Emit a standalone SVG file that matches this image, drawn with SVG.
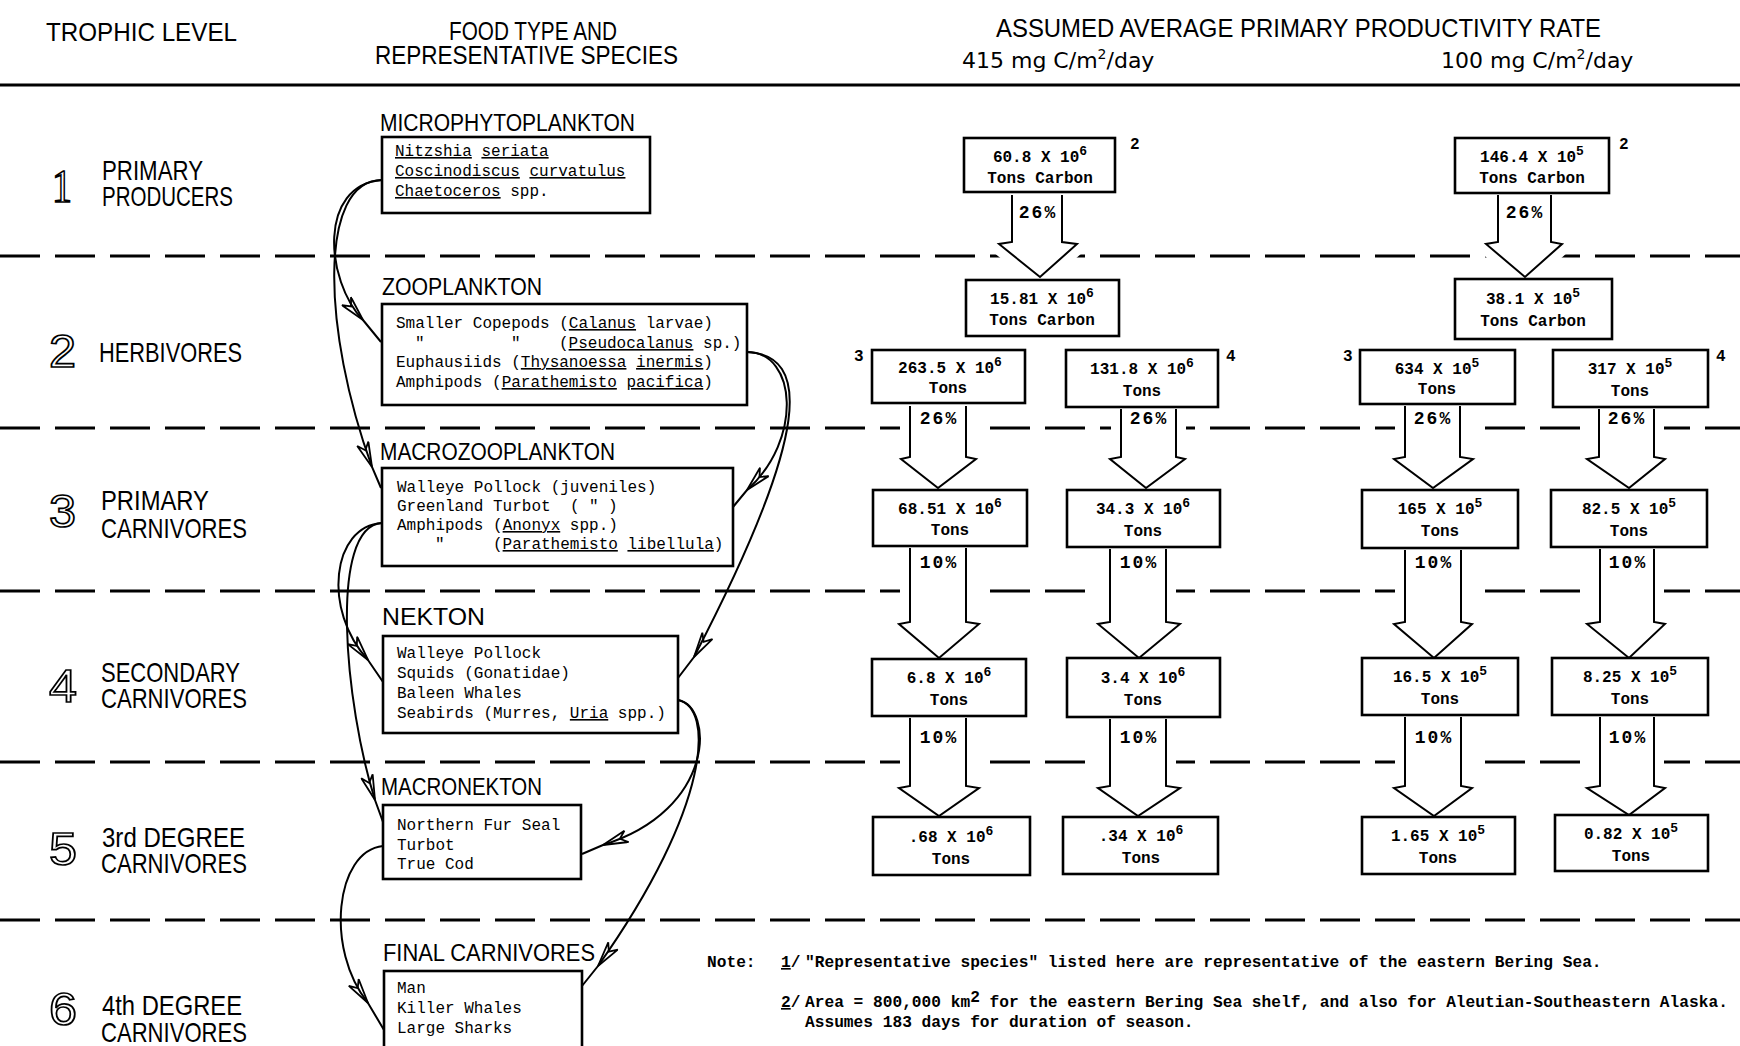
<svg xmlns="http://www.w3.org/2000/svg" width="1740" height="1046" viewBox="0 0 1740 1046">
<defs>
<style>
.hdr{font-family:"Liberation Sans",Arial,sans-serif;font-size:25px;fill:#000}
.rate{font-family:"DejaVu Sans","Liberation Sans",sans-serif;font-size:22px;fill:#000}
.lvl{font-family:"Liberation Sans",Arial,sans-serif;font-size:28px;fill:#000}
.num{font-family:"Liberation Sans",Arial,sans-serif;font-size:47px;fill:#fff;stroke:#000;stroke-width:1.7}
.num1{font-family:"Liberation Serif",serif;font-size:47px;fill:#fff;stroke:#000;stroke-width:1.7}
.cat{font-family:"Liberation Sans",Arial,sans-serif;font-size:23px;fill:#000}
.sp{font-family:"Liberation Mono",monospace;font-size:16px;fill:#000}
.val{font-family:"Liberation Mono",monospace;font-size:16px;font-weight:bold;text-anchor:middle;fill:#000}
.sup{font-size:13px}
.pct{font-family:"Liberation Mono",monospace;font-size:18px;font-weight:bold;text-anchor:middle;letter-spacing:2px;fill:#000}
.fn{font-family:"Liberation Mono",monospace;font-size:16px;font-weight:bold;fill:#000}
.box{fill:#fff;stroke:#000;stroke-width:2.6}
.solid{stroke:#000;stroke-width:3}
.dash{stroke:#000;stroke-width:3;stroke-dasharray:40 15}
.conn{fill:none;stroke:#000;stroke-width:2;marker-mid:url(#ah)}
.halo{fill:none;stroke:#fff;stroke-width:20}
.arr{fill:#fff;stroke:#000;stroke-width:2}
.note{font-family:"Liberation Mono",monospace;font-size:16.2px;font-weight:bold;fill:#000}
</style>
<marker id="ah" viewBox="0 0 28 14" refX="26" refY="7" markerWidth="28" markerHeight="14" markerUnits="userSpaceOnUse" orient="auto">
<path d="M1,1 L26,7 L1,13 L8,7 Z" fill="none" stroke="#000" stroke-width="1.8"/>
</marker>
</defs>
<rect x="0" y="0" width="1740" height="1046" fill="#fff"/>

<g id="header">
<text class="hdr" x="46" y="41" textLength="191" lengthAdjust="spacingAndGlyphs">TROPHIC LEVEL</text>
<text class="hdr" x="449" y="40" textLength="168" lengthAdjust="spacingAndGlyphs">FOOD TYPE AND</text>
<text class="hdr" x="375" y="64" textLength="303" lengthAdjust="spacingAndGlyphs">REPRESENTATIVE SPECIES</text>
<text class="hdr" x="996" y="37" textLength="605" lengthAdjust="spacingAndGlyphs">ASSUMED AVERAGE PRIMARY PRODUCTIVITY RATE</text>
<text class="rate" x="962" y="68">415 mg C/m<tspan dy="-9" font-size="14">2</tspan><tspan dy="9">/day</tspan></text>
<text class="rate" x="1441" y="68">100 mg C/m<tspan dy="-9" font-size="14">2</tspan><tspan dy="9">/day</tspan></text>
</g>

<g id="rules">
<line class="solid" x1="0" y1="85" x2="1740" y2="85"/>
<line class="dash" x1="0" y1="256" x2="1740" y2="256"/>
<line class="dash" x1="0" y1="428" x2="1740" y2="428"/>
<line class="dash" x1="0" y1="591" x2="1740" y2="591"/>
<line class="dash" x1="0" y1="762" x2="1740" y2="762"/>
<line class="dash" x1="0" y1="920" x2="1740" y2="920"/>
</g>

<g id="levels">
<g id="level-1"><text class="num1" x="52" y="202" textLength="20" lengthAdjust="spacingAndGlyphs">1</text>
<text class="lvl" x="102" y="180" textLength="101" lengthAdjust="spacingAndGlyphs">PRIMARY</text>
<text class="lvl" x="102" y="206" textLength="131" lengthAdjust="spacingAndGlyphs">PRODUCERS</text></g>
<g id="level-2"><text class="num" x="49" y="367" textLength="27" lengthAdjust="spacingAndGlyphs">2</text>
<text class="lvl" x="99" y="362" textLength="143" lengthAdjust="spacingAndGlyphs">HERBIVORES</text></g>
<g id="level-3"><text class="num" x="49" y="527" textLength="27" lengthAdjust="spacingAndGlyphs">3</text>
<text class="lvl" x="101" y="510" textLength="108" lengthAdjust="spacingAndGlyphs">PRIMARY</text>
<text class="lvl" x="101" y="538" textLength="146" lengthAdjust="spacingAndGlyphs">CARNIVORES</text></g>
<g id="level-4"><text class="num" x="49" y="702" textLength="28" lengthAdjust="spacingAndGlyphs">4</text>
<text class="lvl" x="101" y="682" textLength="139" lengthAdjust="spacingAndGlyphs">SECONDARY</text>
<text class="lvl" x="101" y="708" textLength="146" lengthAdjust="spacingAndGlyphs">CARNIVORES</text></g>
<g id="level-5"><text class="num" x="49" y="865" textLength="28" lengthAdjust="spacingAndGlyphs">5</text>
<text class="lvl" x="102" y="847" textLength="143" lengthAdjust="spacingAndGlyphs">3rd DEGREE</text>
<text class="lvl" x="101" y="873" textLength="146" lengthAdjust="spacingAndGlyphs">CARNIVORES</text></g>
<g id="level-6"><text class="num" x="49" y="1025" textLength="28" lengthAdjust="spacingAndGlyphs">6</text>
<text class="lvl" x="102" y="1015" textLength="140" lengthAdjust="spacingAndGlyphs">4th DEGREE</text>
<text class="lvl" x="101" y="1042" textLength="146" lengthAdjust="spacingAndGlyphs">CARNIVORES</text></g>
</g>

<g id="connectors">
<path class="conn" d="M382,180 C318,185 325,280 363,320 L381,342"/>
<path class="conn" d="M382,180 C318,180 322,330 372,467 L381,488"/>
<path class="conn" d="M747,352 C797,352 803,440 747,490 L733,507"/>
<path class="conn" d="M747,352 C810,355 812,430 694,657 L678,678"/>
<path class="conn" d="M382,523 C332,526 322,610 368,660 L383,682"/>
<path class="conn" d="M382,523 C328,526 345,705 375,800 L383,822"/>
<path class="conn" d="M678,700 C714,707 716,810 603,845 L582,854"/>
<path class="conn" d="M678,700 C714,707 712,805 598,966 L582,986"/>
<path class="conn" d="M383,846 C335,851 325,950 368,1003 L384,1030"/>
<g id="flow-arrows">
<path class="halo" d="M1012,195 V242 L999,244 L1040,277 L1077,244 L1062,242 V195"/>
<path class="arr" d="M1012,195 V242 L999,244 L1040,277 L1077,244 L1062,242 V195"/>
<path class="halo" d="M1498,195 V242 L1486,244 L1525,277 L1562,244 L1551,242 V195"/>
<path class="arr" d="M1498,195 V242 L1486,244 L1525,277 L1562,244 L1551,242 V195"/>
<path class="halo" d="M910,406 V457 L901,459 L938,488 L976,459 L966,457 V406"/>
<path class="arr" d="M910,406 V457 L901,459 L938,488 L976,459 L966,457 V406"/>
<path class="halo" d="M1121,409 V457 L1110,459 L1146,488 L1185,459 L1176,457 V409"/>
<path class="arr" d="M1121,409 V457 L1110,459 L1146,488 L1185,459 L1176,457 V409"/>
<path class="halo" d="M1405,406 V457 L1394,459 L1433,488 L1473,459 L1460,457 V406"/>
<path class="arr" d="M1405,406 V457 L1394,459 L1433,488 L1473,459 L1460,457 V406"/>
<path class="halo" d="M1599,409 V457 L1587,459 L1629,488 L1665,459 L1654,457 V409"/>
<path class="arr" d="M1599,409 V457 L1587,459 L1629,488 L1665,459 L1654,457 V409"/>
<path class="halo" d="M910,548 V622 L899,624 L939,658 L979,624 L966,622 V548"/>
<path class="arr" d="M910,548 V622 L899,624 L939,658 L979,624 L966,622 V548"/>
<path class="halo" d="M1110,549 V622 L1098,624 L1139,658 L1180,624 L1166,622 V549"/>
<path class="arr" d="M1110,549 V622 L1098,624 L1139,658 L1180,624 L1166,622 V549"/>
<path class="halo" d="M1405,550 V622 L1394,624 L1434,658 L1472,624 L1461,622 V550"/>
<path class="arr" d="M1405,550 V622 L1394,624 L1434,658 L1472,624 L1461,622 V550"/>
<path class="halo" d="M1600,549 V622 L1587,624 L1629,658 L1665,624 L1654,622 V549"/>
<path class="arr" d="M1600,549 V622 L1587,624 L1629,658 L1665,624 L1654,622 V549"/>
<path class="halo" d="M910,718 V786 L899,788 L939,816 L979,788 L966,786 V718"/>
<path class="arr" d="M910,718 V786 L899,788 L939,816 L979,788 L966,786 V718"/>
<path class="halo" d="M1110,719 V786 L1098,788 L1138,816 L1180,788 L1166,786 V719"/>
<path class="arr" d="M1110,719 V786 L1098,788 L1138,816 L1180,788 L1166,786 V719"/>
<path class="halo" d="M1405,717 V786 L1394,788 L1434,816 L1472,788 L1461,786 V717"/>
<path class="arr" d="M1405,717 V786 L1394,788 L1434,816 L1472,788 L1461,786 V717"/>
<path class="halo" d="M1600,717 V786 L1587,788 L1629,815 L1665,788 L1654,786 V717"/>
<path class="arr" d="M1600,717 V786 L1587,788 L1629,815 L1665,788 L1654,786 V717"/>
<text class="pct" x="1038" y="218">26%</text>
<text class="pct" x="1525" y="218">26%</text>
<text class="pct" x="939" y="424">26%</text>
<text class="pct" x="1149" y="424">26%</text>
<text class="pct" x="1433" y="424">26%</text>
<text class="pct" x="1627" y="424">26%</text>
<text class="pct" x="939" y="568">10%</text>
<text class="pct" x="1139" y="568">10%</text>
<text class="pct" x="1434" y="568">10%</text>
<text class="pct" x="1628" y="568">10%</text>
<text class="pct" x="939" y="743">10%</text>
<text class="pct" x="1139" y="743">10%</text>
<text class="pct" x="1434" y="743">10%</text>
<text class="pct" x="1628" y="743">10%</text>
</g>
</g>

<g id="microphytoplankton">
<text class="cat" x="380" y="131" textLength="255" lengthAdjust="spacingAndGlyphs">MICROPHYTOPLANKTON</text>
<rect class="box" x="382" y="137" width="268" height="76"/>
<text class="sp" x="395" y="156"><tspan text-decoration="underline">Nitzshia</tspan> <tspan text-decoration="underline">seriata</tspan></text>
<text class="sp" x="395" y="176"><tspan text-decoration="underline">Coscinodiscus</tspan> <tspan text-decoration="underline">curvatulus</tspan></text>
<text class="sp" x="395" y="196"><tspan text-decoration="underline">Chaetoceros</tspan> spp.</text>
</g>

<g id="zooplankton">
<text class="cat" x="382" y="295" textLength="160" lengthAdjust="spacingAndGlyphs">ZOOPLANKTON</text>
<rect class="box" x="382" y="304" width="365" height="101"/>
<text class="sp" x="396" y="328">Smaller Copepods (<tspan text-decoration="underline">Calanus</tspan> larvae)</text>
<text class="sp" y="348"><tspan x="415">"</tspan><tspan x="511">"</tspan><tspan x="559">(</tspan><tspan text-decoration="underline">Pseudocalanus</tspan> sp.)</text>
<text class="sp" x="396" y="367">Euphausiids (<tspan text-decoration="underline">Thysanoessa</tspan> <tspan text-decoration="underline">inermis</tspan>)</text>
<text class="sp" x="396" y="387">Amphipods (<tspan text-decoration="underline">Parathemisto</tspan> <tspan text-decoration="underline">pacifica</tspan>)</text>
</g>

<g id="macrozooplankton">
<text class="cat" x="380" y="460" textLength="235" lengthAdjust="spacingAndGlyphs">MACROZOOPLANKTON</text>
<rect class="box" x="382" y="468" width="351" height="98"/>
<text class="sp" x="397" y="492">Walleye Pollock (juveniles)</text>
<text class="sp" y="511"><tspan x="397">Greenland Turbot</tspan><tspan x="570">(</tspan><tspan x="589">"</tspan><tspan x="608">)</tspan></text>
<text class="sp" x="397" y="530">Amphipods (<tspan text-decoration="underline">Anonyx</tspan> spp.)</text>
<text class="sp" y="549"><tspan x="435">"</tspan><tspan x="493">(</tspan><tspan text-decoration="underline">Parathemisto</tspan> <tspan text-decoration="underline">libellula</tspan>)</text>
</g>

<g id="nekton">
<text class="cat" x="382" y="625" textLength="103" lengthAdjust="spacingAndGlyphs">NEKTON</text>
<rect class="box" x="383" y="636" width="295" height="97"/>
<text class="sp" x="397" y="658">Walleye Pollock</text>
<text class="sp" x="397" y="678">Squids (Gonatidae)</text>
<text class="sp" x="397" y="698">Baleen Whales</text>
<text class="sp" x="397" y="718">Seabirds (Murres, <tspan text-decoration="underline">Uria</tspan> spp.)</text>
</g>

<g id="macronekton">
<text class="cat" x="381" y="795" textLength="161" lengthAdjust="spacingAndGlyphs">MACRONEKTON</text>
<rect class="box" x="383" y="805" width="198" height="74"/>
<text class="sp" x="397" y="830">Northern Fur Seal</text>
<text class="sp" x="397" y="850">Turbot</text>
<text class="sp" x="397" y="869">True Cod</text>
</g>

<g id="final-carnivores">
<text class="cat" x="383" y="961" textLength="212" lengthAdjust="spacingAndGlyphs">FINAL CARNIVORES</text>
<rect class="box" x="384" y="971" width="198" height="90"/>
<text class="sp" x="397" y="993">Man</text>
<text class="sp" x="397" y="1013">Killer Whales</text>
<text class="sp" x="397" y="1033">Large Sharks</text>
</g>

<g id="b415-1"><rect class="box" x="964" y="138" width="151" height="54"/>
<text class="val" x="1040" y="162">60.8 X 10<tspan class="sup" dy="-7">6</tspan></text>
<text class="val" x="1040" y="183">Tons Carbon</text>
<text class="fn" x="1130" y="149">2</text></g>
<g id="b415-2"><rect class="box" x="966" y="280" width="153" height="56"/>
<text class="val" x="1042" y="304">15.81 X 10<tspan class="sup" dy="-7">6</tspan></text>
<text class="val" x="1042" y="325">Tons Carbon</text></g>
<g id="b415-3"><rect class="box" x="872" y="350" width="153" height="53"/>
<text class="val" x="950" y="373">263.5 X 10<tspan class="sup" dy="-7">6</tspan></text>
<text class="val" x="948" y="393">Tons</text>
<text class="fn" x="854" y="361">3</text></g>
<g id="b415-4"><rect class="box" x="1066" y="350" width="152" height="57"/>
<text class="val" x="1142" y="374">131.8 X 10<tspan class="sup" dy="-7">6</tspan></text>
<text class="val" x="1142" y="396">Tons</text>
<text class="fn" x="1226" y="361">4</text></g>
<g id="b415-5"><rect class="box" x="873" y="490" width="154" height="56"/>
<text class="val" x="950" y="514">68.51 X 10<tspan class="sup" dy="-7">6</tspan></text>
<text class="val" x="950" y="535">Tons</text></g>
<g id="b415-6"><rect class="box" x="1067" y="490" width="153" height="57"/>
<text class="val" x="1143" y="514">34.3 X 10<tspan class="sup" dy="-7">6</tspan></text>
<text class="val" x="1143" y="536">Tons</text></g>
<g id="b415-7"><rect class="box" x="872" y="659" width="154" height="57"/>
<text class="val" x="949" y="683">6.8 X 10<tspan class="sup" dy="-7">6</tspan></text>
<text class="val" x="949" y="705">Tons</text></g>
<g id="b415-8"><rect class="box" x="1067" y="658" width="153" height="59"/>
<text class="val" x="1143" y="683">3.4 X 10<tspan class="sup" dy="-7">6</tspan></text>
<text class="val" x="1143" y="705">Tons</text></g>
<g id="b415-9"><rect class="box" x="873" y="817" width="157" height="58"/>
<text class="val" x="951" y="842">.68 X 10<tspan class="sup" dy="-7">6</tspan></text>
<text class="val" x="951" y="864">Tons</text></g>
<g id="b415-10"><rect class="box" x="1063" y="817" width="155" height="57"/>
<text class="val" x="1141" y="841">.34 X 10<tspan class="sup" dy="-7">6</tspan></text>
<text class="val" x="1141" y="863">Tons</text></g>

<g id="b100-1"><rect class="box" x="1455" y="138" width="154" height="55"/>
<text class="val" x="1532" y="162">146.4 X 10<tspan class="sup" dy="-7">5</tspan></text>
<text class="val" x="1532" y="183">Tons Carbon</text>
<text class="fn" x="1619" y="149">2</text></g>
<g id="b100-2"><rect class="box" x="1455" y="279" width="157" height="60"/>
<text class="val" x="1533" y="304">38.1 X 10<tspan class="sup" dy="-7">5</tspan></text>
<text class="val" x="1533" y="326">Tons Carbon</text></g>
<g id="b100-3"><rect class="box" x="1360" y="350" width="155" height="54"/>
<text class="val" x="1437" y="374">634 X 10<tspan class="sup" dy="-7">5</tspan></text>
<text class="val" x="1437" y="394">Tons</text>
<text class="fn" x="1343" y="361">3</text></g>
<g id="b100-4"><rect class="box" x="1553" y="350" width="155" height="57"/>
<text class="val" x="1630" y="374">317 X 10<tspan class="sup" dy="-7">5</tspan></text>
<text class="val" x="1630" y="396">Tons</text>
<text class="fn" x="1716" y="361">4</text></g>
<g id="b100-5"><rect class="box" x="1362" y="490" width="156" height="58"/>
<text class="val" x="1440" y="514">165 X 10<tspan class="sup" dy="-7">5</tspan></text>
<text class="val" x="1440" y="536">Tons</text></g>
<g id="b100-6"><rect class="box" x="1551" y="490" width="156" height="57"/>
<text class="val" x="1629" y="514">82.5 X 10<tspan class="sup" dy="-7">5</tspan></text>
<text class="val" x="1629" y="536">Tons</text></g>
<g id="b100-7"><rect class="box" x="1362" y="658" width="156" height="57"/>
<text class="val" x="1440" y="682">16.5 X 10<tspan class="sup" dy="-7">5</tspan></text>
<text class="val" x="1440" y="704">Tons</text></g>
<g id="b100-8"><rect class="box" x="1552" y="658" width="156" height="57"/>
<text class="val" x="1630" y="682">8.25 X 10<tspan class="sup" dy="-7">5</tspan></text>
<text class="val" x="1630" y="704">Tons</text></g>
<g id="b100-9"><rect class="box" x="1362" y="817" width="153" height="57"/>
<text class="val" x="1438" y="841">1.65 X 10<tspan class="sup" dy="-7">5</tspan></text>
<text class="val" x="1438" y="863">Tons</text></g>
<g id="b100-10"><rect class="box" x="1555" y="815" width="153" height="56"/>
<text class="val" x="1631" y="839">0.82 X 10<tspan class="sup" dy="-7">5</tspan></text>
<text class="val" x="1631" y="861">Tons</text></g>

<g id="notes">
<text class="note" x="707" y="967">Note:</text>
<text class="note" x="781" y="967"><tspan text-decoration="underline">1</tspan>/</text>
<text class="note" x="805" y="967">"Representative species" listed here are representative of the eastern Bering Sea.</text>
<text class="note" x="781" y="1007"><tspan text-decoration="underline">2</tspan>/</text>
<text class="note" x="805" y="1007">Area = 800,000 km<tspan dy="-5">2</tspan><tspan dy="5"> for the eastern Bering Sea shelf, and also for Aleutian-Southeastern Alaska.</tspan></text>
<text class="note" x="805" y="1027">Assumes 183 days for duration of season.</text>
</g>
</svg>
